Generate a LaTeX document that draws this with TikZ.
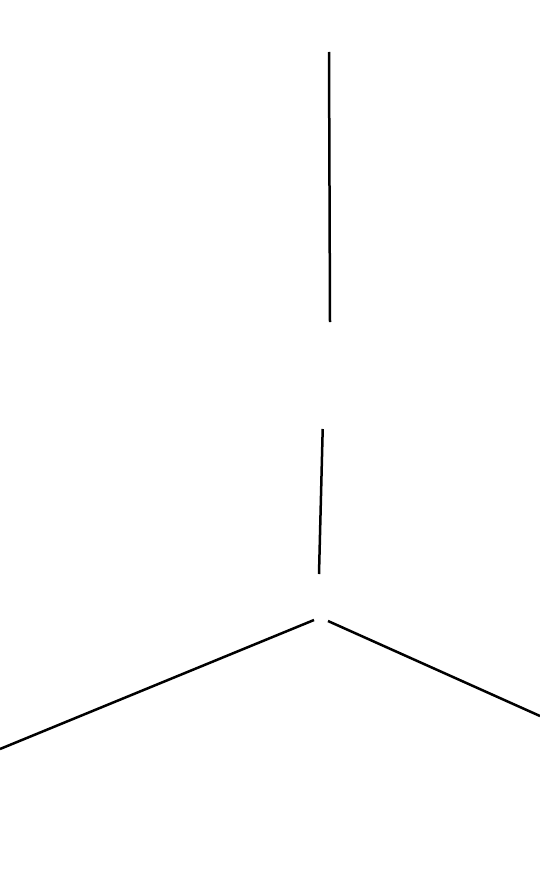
\documentclass[tikz,border=0pt]{standalone}
\begin{document}
\begin{tikzpicture}[x=1pt,y=-1pt,seg/.style={draw=black,line width=2.5pt}]
\fill[white] (0,0) rectangle (540,888);
\useasboundingbox (0,0) rectangle (540,888);
\coordinate (a1) at (329,52);
\coordinate (a2) at (330,322);
\coordinate (b1) at (322.7,429);
\coordinate (b2) at (319,574);
\coordinate (c1) at (314,620);
\coordinate (c2) at (0,749);
\coordinate (d1) at (328,621);
\coordinate (d2) at (540,716);
\draw[seg] (a1) -- (a2);
\draw[seg] (b1) -- (b2);
\draw[seg] (c1) -- (c2);
\draw[seg] (d1) -- (d2);
\end{tikzpicture}
\end{document}
